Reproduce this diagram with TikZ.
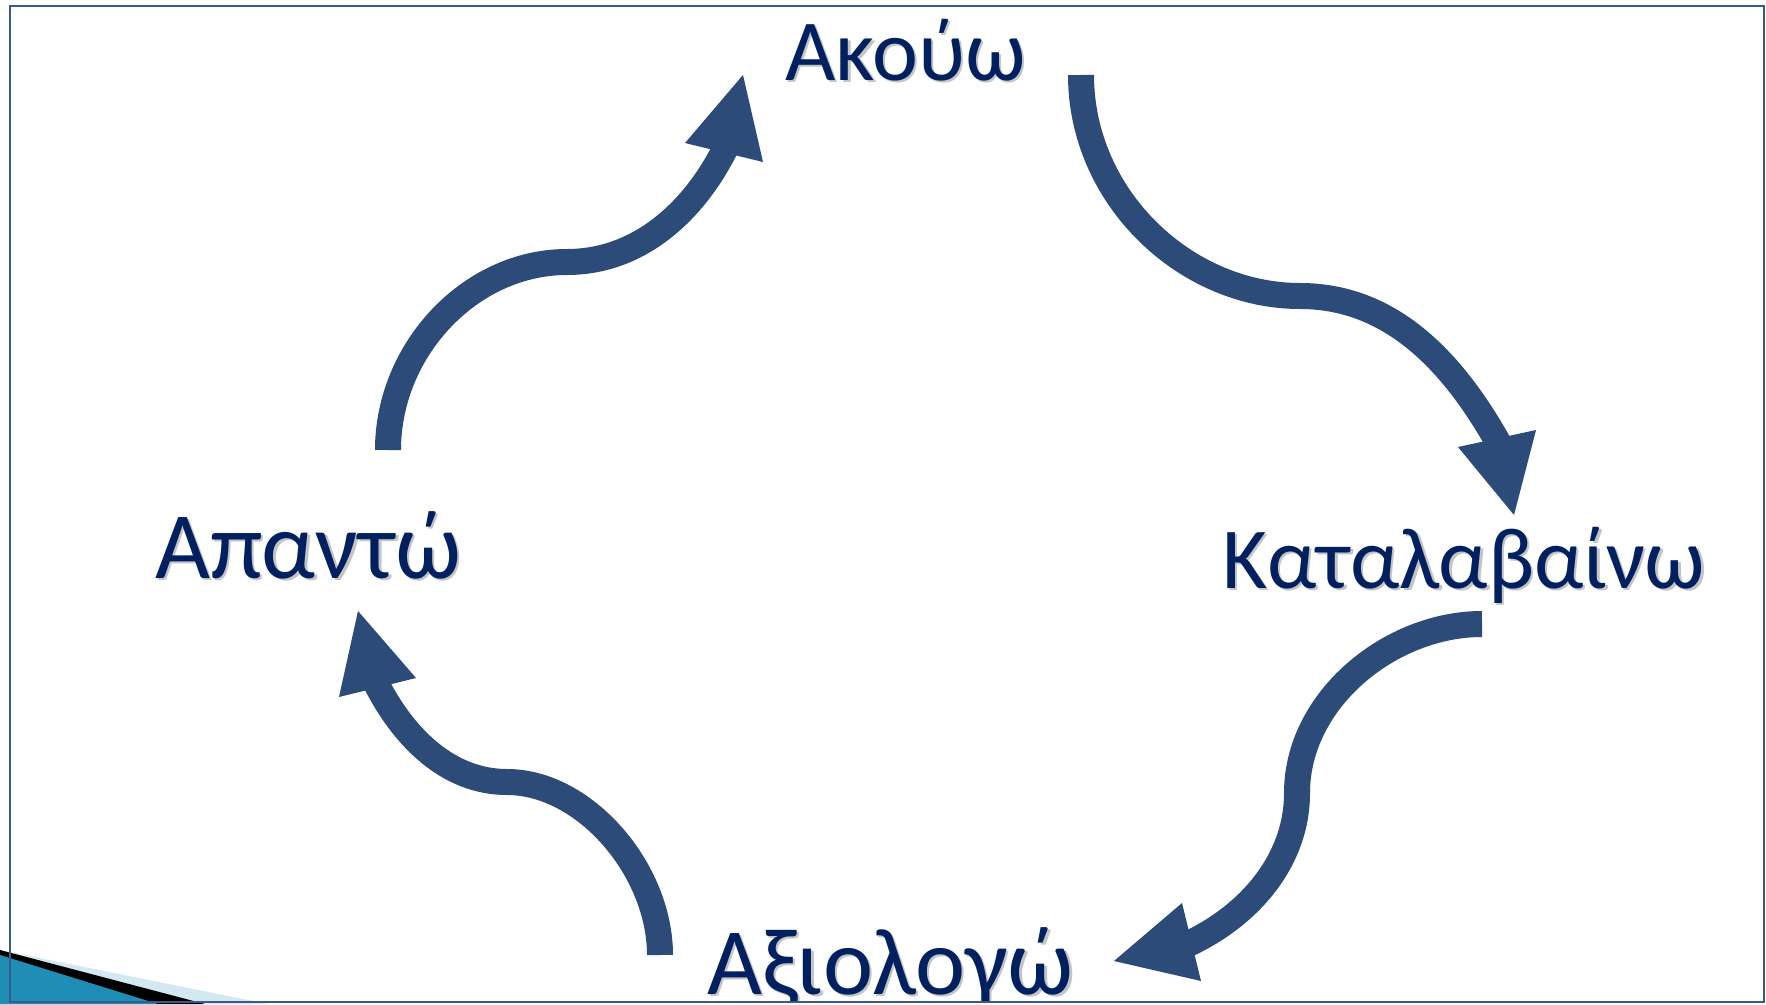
\documentclass[tikz,border=0pt]{standalone}
\usepackage{fontspec}
\setmainfont{Carlito}
\definecolor{arrowblue}{HTML}{2D4B78}
\definecolor{txtnavy}{HTML}{002060}
\definecolor{frameblue}{HTML}{3A5A8C}
\definecolor{shadowgray}{HTML}{C4C4C4}
\definecolor{cornerteal}{HTML}{1F8DB5}
\definecolor{cornerlight}{HTML}{D3E8F0}
\begin{document}
\begin{tikzpicture}[x=1pt,y=-1pt,
  arrowline/.style={line width=26pt, draw=arrowblue},
  headfill/.style={fill=arrowblue},
  lbl/.style={anchor=base west, inner sep=0pt, text=txtnavy, font=\fontsize{87}{100}\selectfont},
  shd/.style={anchor=base west, inner sep=0pt, text=shadowgray, font=\fontsize{87}{100}\selectfont},
  big/.style={font=\fontsize{95}{110}\selectfont}]
\useasboundingbox (0,0) rectangle (1766,1004);
\fill[white] (0,0) rectangle (1766,1004);
% corner decoration
\fill[cornerlight] (0,950) -- (268,1004) -- (0,1004) -- cycle;
\fill[black] (0,950) -- (205,1004) -- (0,1004) -- cycle;
\fill[cornerteal] (0,955) -- (158,1004) -- (0,1004) -- cycle;
% labels
\node[shd] (s1) at (787.5,82.5) {Ακούω};
\node[lbl] (t1) at (785,80) {Ακούω};
\node[shd] (s2) at (1224.5,590.5) {Καταλαβαίνω};
\node[lbl] (t2) at (1222,588) {Καταλαβαίνω};
\begin{scope}
\clip (0,0) rectangle (1766,1002);
\node[shd,big] (s3) at (709.5,996.5) {Αξιολογώ};
\node[lbl,big] (t3) at (707,994) {Αξιολογώ};
\end{scope}
\node[shd,big] (s4) at (157.5,580.5) {Απαντώ};
\node[lbl,big] (t4) at (155,578) {Απαντώ};
% frame
\draw[frameblue, line width=2pt] (10,6) rectangle (1764,1002);
% arrow 1: top -> right
\coordinate (a1s) at (1081,75);
\coordinate (a1m) at (1300,296);
\coordinate (a1e) at (1499,444);
\draw[arrowline] (a1s) .. controls (1081,197) and (1185,296) .. (a1m)
  .. controls (1390,296) and (1452,360) .. (a1e);
\fill[headfill] (1458,447) -- (1536,430) -- (1514,515) -- cycle;
% arrow 2: right -> bottom
\coordinate (a2s) at (1482,624);
\coordinate (a2m) at (1297,793);
\coordinate (a2e) at (1188,944);
\draw[arrowline] (a2s) .. controls (1390,624) and (1297,700) .. (a2m)
  .. controls (1297,860) and (1250,915) .. (a2e);
\fill[headfill] (1182,903) -- (1201,981) -- (1114,961) -- cycle;
% arrow 3: bottom -> left
\coordinate (a3s) at (660,955);
\coordinate (a3m) at (507,782);
\coordinate (a3e) at (376,683);
\draw[arrowline] (a3s) .. controls (660,870) and (585,782) .. (a3m)
  .. controls (450,782) and (405,740) .. (a3e);
\fill[headfill] (339,697) -- (416,678) -- (358,611) -- cycle;
% arrow 4: left -> top
\coordinate (a4s) at (388,450);
\coordinate (a4m) at (567,262);
\coordinate (a4e) at (726,147);
\draw[arrowline] (a4s) .. controls (388,350) and (470,262) .. (a4m)
  .. controls (640,262) and (695,210) .. (a4e);
\fill[headfill] (685,143) -- (763,162) -- (743,75) -- cycle;
\end{tikzpicture}
\end{document}
